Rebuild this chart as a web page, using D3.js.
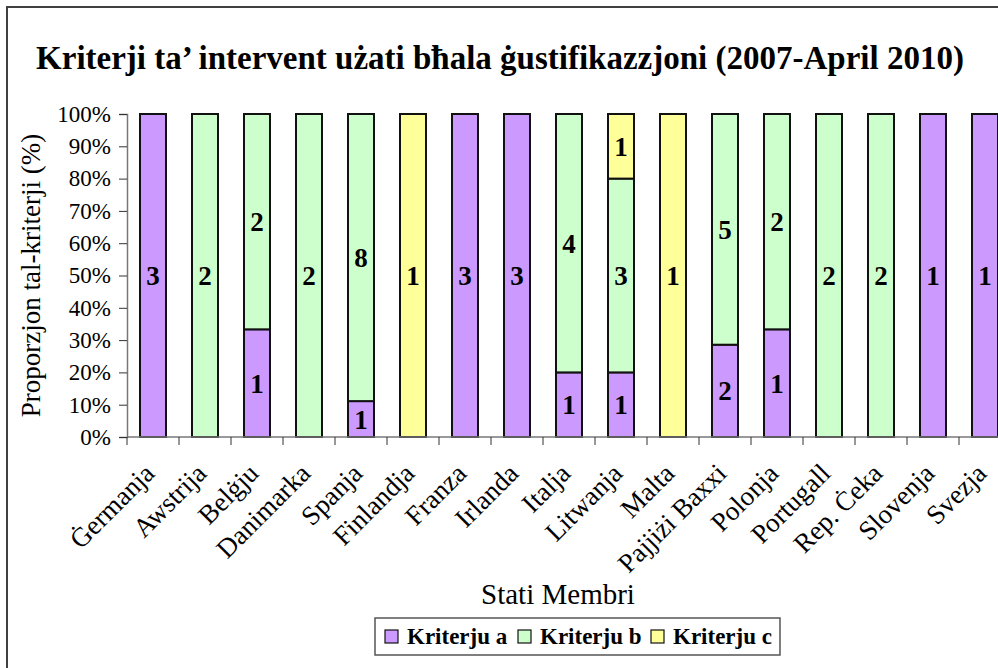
<!DOCTYPE html>
<html lang="en">
<head>
<meta charset="UTF-8">
<title>Kriterji</title>
<script src="https://cdn.jsdelivr.net/npm/d3@7"></script>
<style>
  body { margin: 0; background: #fff; }
  text { font-family: "Liberation Serif", "Times New Roman", serif; }
</style>
</head>
<body>
<script>
var countries = ["Ġermanja", "Awstrija", "Belġju", "Danimarka", "Spanja", "Finlandja", "Franza",
  "Irlanda", "Italja", "Litwanja", "Malta", "Pajjiżi Baxxi", "Polonja", "Portugall",
  "Rep. Ċeka", "Slovenja", "Svezja"];
var kriterjuA = [3, 0, 1, 0, 1, 0, 3, 3, 1, 1, 0, 2, 1, 0, 0, 1, 1];
var kriterjuB = [0, 2, 2, 2, 8, 0, 0, 0, 4, 3, 0, 5, 2, 2, 2, 0, 0];
var kriterjuC = [0, 0, 0, 0, 0, 1, 0, 0, 0, 1, 1, 0, 0, 0, 0, 0, 0];
var seriesNames = ["Kriterju a", "Kriterju b", "Kriterju c"];
var colors = ["#CC99FF", "#CCFFCC", "#FFFF99"];
var yTicks = [0, 0.1, 0.2, 0.3, 0.4, 0.5, 0.6, 0.7, 0.8, 0.9, 1];

var w = 998, h = 668;
var plotLeft = 127, plotTop = 114, plotBottom = 437, step = 52;

var svg = d3.select("body").append("svg")
  .attr("width", w).attr("height", h);

// outer frame (runs off the right edge like the source)
svg.append("rect")
  .attr("x", 7).attr("y", 7).attr("width", 1100).attr("height", 700)
  .attr("fill", "none").attr("stroke", "#404040").attr("stroke-width", 2);

svg.append("text")
  .attr("x", 500).attr("y", 69)
  .attr("text-anchor", "middle")
  .attr("font-size", "33px").attr("font-weight", "bold")
  .text("Kriterji ta’ intervent użati bħala ġustifikazzjoni (2007-April 2010)");

var x = d3.scaleBand()
  .domain(countries)
  .range([plotLeft, plotLeft + step * countries.length])
  .paddingInner(0.5).paddingOuter(0.25);

var y = d3.scaleLinear().domain([0, 1]).range([plotBottom, plotTop]);

// build stacked rows of shares
var rows = countries.map(function (c, i) {
  return { country: c, vals: [kriterjuA[i], kriterjuB[i], kriterjuC[i]] };
});
var stack = d3.stack()
  .keys([0, 1, 2])
  .value(function (d, k) { return d.vals[k] / d3.sum(d.vals); });
var layers = stack(rows);

var g = svg.selectAll("g.layer")
  .data(layers)
  .enter().append("g")
  .attr("class", "layer")
  .attr("fill", function (d, i) { return colors[i]; });

g.selectAll("rect")
  .data(function (d) { return d.filter(function (s) { return s[1] > s[0]; }); })
  .enter().append("rect")
  .attr("x", function (d) { return x(d.data.country); })
  .attr("y", function (d) { return y(d[1]); })
  .attr("width", x.bandwidth())
  .attr("height", function (d) { return y(d[0]) - y(d[1]); })
  .attr("stroke", "#111").attr("stroke-width", 2);

g.each(function (layer, k) {
  d3.select(this).selectAll("text")
    .data(layer.filter(function (s) { return s[1] > s[0]; }))
    .enter().append("text")
    .attr("x", function (d) { return x(d.data.country) + x.bandwidth() / 2; })
    .attr("y", function (d) { return y((d[0] + d[1]) / 2); })
    .attr("dy", "0.35em")
    .attr("text-anchor", "middle")
    .attr("fill", "#000")
    .attr("font-size", "27px").attr("font-weight", "bold")
    .text(function (d) { return d.data.vals[k]; });
});

// y axis
var yAxis = svg.append("g")
  .attr("transform", "translate(" + plotLeft + ",0)")
  .call(d3.axisLeft(y).tickValues(yTicks).tickSize(8).tickPadding(8)
    .tickFormat(d3.format(".0%")));
yAxis.select(".domain").attr("stroke", "#777").attr("stroke-width", 1.5);
yAxis.selectAll(".tick line").attr("stroke", "#333");
yAxis.selectAll(".tick text")
  .attr("font-family", "Liberation Serif").attr("font-size", "23px").attr("fill", "#000");

// x axis: ticks sit at the band boundaries
var xAxis = svg.append("g").attr("transform", "translate(0," + plotBottom + ")");
xAxis.append("line")
  .attr("x1", plotLeft).attr("x2", plotLeft + step * countries.length)
  .attr("stroke", "#777").attr("stroke-width", 1.5);
xAxis.selectAll("line.tk")
  .data(d3.range(countries.length + 1))
  .enter().append("line")
  .attr("class", "tk")
  .attr("x1", function (i) { return plotLeft + i * step; })
  .attr("x2", function (i) { return plotLeft + i * step; })
  .attr("y1", 0).attr("y2", 8)
  .attr("stroke", "#333");

svg.selectAll("text.cat")
  .data(countries)
  .enter().append("text")
  .attr("class", "cat")
  .attr("text-anchor", "end")
  .attr("font-size", "27px")
  .attr("transform", function (d) {
    return "translate(" + (x(d) + x.bandwidth() / 2 + 3) + "," + (plotBottom + 38) + ") rotate(-45)";
  })
  .text(function (d) { return d; });

svg.append("text")
  .attr("x", 558).attr("y", 604)
  .attr("text-anchor", "middle")
  .attr("font-size", "29px")
  .text("Stati Membri");

svg.append("text")
  .attr("transform", "translate(40," + ((plotTop + plotBottom) / 2) + ") rotate(-90)")
  .attr("text-anchor", "middle")
  .attr("font-size", "27px")
  .text("Proporzjon tal-kriterji (%)");

// legend
var legend = svg.append("g").attr("transform", "translate(375,618)");
var legendBox = legend.append("rect")
  .attr("height", 37)
  .attr("fill", "#fff").attr("stroke", "#555").attr("stroke-width", 1.5);
var items = legend.selectAll("g.item")
  .data(seriesNames)
  .enter().append("g")
  .attr("class", "item")
  .attr("transform", function (d, i) { return "translate(" + (10 + i * 133) + ",0)"; });
items.append("rect")
  .attr("y", 12).attr("width", 13).attr("height", 13)
  .attr("fill", function (d, i) { return colors[i]; })
  .attr("stroke", "#111").attr("stroke-width", 1.2);
items.append("text")
  .attr("x", 22).attr("y", 26)
  .attr("font-size", "23px").attr("font-weight", "bold")
  .text(function (d) { return d; });
var lastText = items.select("text").nodes()[seriesNames.length - 1];
legendBox.attr("width", 10 + (seriesNames.length - 1) * 133 + 22 + lastText.getComputedTextLength() + 8);
</script>
</body>
</html>
